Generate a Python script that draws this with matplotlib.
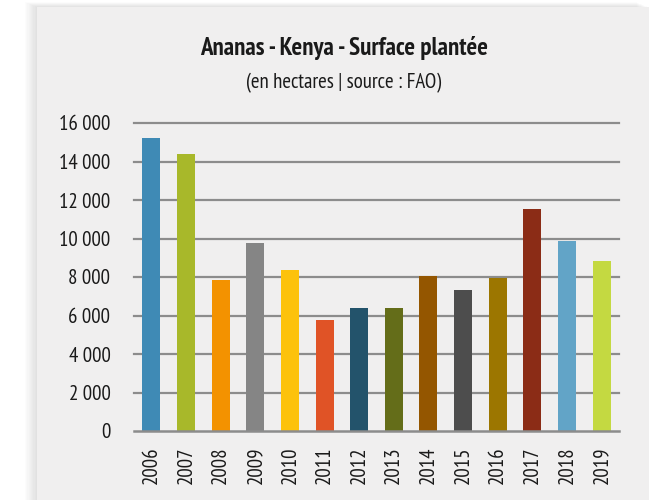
import numpy as np
import matplotlib.pyplot as plt
from matplotlib.patches import Rectangle
from matplotlib.ticker import FuncFormatter

years = ["2006", "2007", "2008", "2009", "2010", "2011", "2012",
         "2013", "2014", "2015", "2016", "2017", "2018", "2019"]
surface = [15200, 14400, 7850, 9750, 8350, 5770, 6390,
           6390, 8050, 7330, 7950, 11540, 9880, 8840]
colors = ["#3f8ab5", "#a8b82a", "#f39200", "#858585", "#fdc20c", "#e05326",
          "#23536b", "#646d19", "#945600", "#4d4d4d", "#9c7600", "#8b2c16",
          "#62a4c7", "#c4d941"]

plt.rcParams['font.family'] = ['PT Sans Narrow', 'DejaVu Sans']

fig = plt.figure(figsize=(6.54, 5.0), dpi=100, facecolor="white")

# soft shadow + panel behind the chart
px, py = 1 / 654, 1 / 500
for i in range(10):
    fig.patches.append(Rectangle((37 * px - (i + 1) * 1.2 * px, 0), (649 - 37) * px,
                                 1 - 7 * py + (i + 1) * 0.5 * py,
                                 transform=fig.transFigure, facecolor="black",
                                 alpha=0.012, edgecolor="none", zorder=0))
fig.patches.append(Rectangle((37 * px, 0), (649 - 37) * px, 1 - 7 * py,
                             transform=fig.transFigure, facecolor="#f0efef",
                             edgecolor="none", zorder=1))

ax = fig.add_axes([134 * px, 69 * py, (619 - 134) * px, (431 - 123) * py])
ax.set_zorder(5)
ax.set_facecolor("none")

x = np.arange(len(years))
ax.bar(x, surface, width=0.52, color=colors, zorder=3)

ax.set_xlim(-0.5, len(years) - 0.5)
ax.set_ylim(0, 16000)
ax.set_yticks(np.arange(0, 16001, 2000))
ax.yaxis.set_major_formatter(FuncFormatter(lambda v, p: "{:,.0f}".format(v).replace(",", " ")))
ax.set_xticks(x)
ax.set_xticklabels(years, rotation=90)

for v in np.arange(2000, 16001, 2000):
    ax.axhline(v, color="#8c8c8c", lw=1.6, zorder=1, clip_on=False)
ax.axhline(0, color="#8c8c8c", lw=1.8, zorder=4, clip_on=False)

for s in ax.spines.values():
    s.set_visible(False)
ax.tick_params(axis="both", length=0, labelsize=15, colors="#1a1a1a")
ax.tick_params(axis="y", pad=17)
ax.tick_params(axis="x", pad=11)

fig.text(0.526, 1 - 55.5 * py, "Ananas - Kenya - Surface plantée", ha="center", va="baseline",
         fontsize=18, fontweight="bold", color="#1a1a1a")
fig.text(0.526, 1 - 88 * py, "(en hectares | source : FAO)", ha="center", va="baseline",
         fontsize=15, color="#1a1a1a")

fig.savefig("out.png", dpi=100, facecolor="white")
